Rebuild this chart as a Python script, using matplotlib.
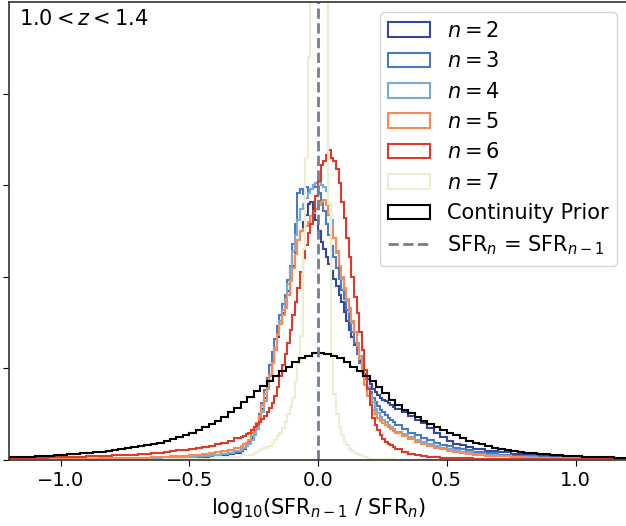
import numpy as np
import matplotlib.pyplot as plt

# bin edges for n=2..6: 0.05 / 0.025 in the wings, 0.01 in the core
edges = np.concatenate([np.linspace(-1.2, -0.6, 13)[:-1],
                        np.linspace(-0.6, -0.3, 13)[:-1],
                        np.linspace(-0.3, 0.3, 61)[:-1],
                        np.linspace(0.3, 0.6, 13)[:-1],
                        np.linspace(0.6, 1.2, 13)])
centers = 0.5 * (edges[1:] + edges[:-1])

# the prior is broad -> even 0.025 bins
edges_prior = np.linspace(-1.2, 1.2, 97)
centers_prior = 0.5 * (edges_prior[1:] + edges_prior[:-1])

# n=7 is very narrow -> 0.01 bins around the spike
edges_n7 = np.concatenate([[-1.2, -0.6, -0.4, -0.3],
                           np.linspace(-0.25, 0.2, 46),
                           [0.25, 0.3, 0.4, 1.2]])
centers_n7 = 0.5 * (edges_n7[1:] + edges_n7[:-1])

# densities
# (wing | 0.025 shoulder | core -0.3..0.3 | 0.025 shoulder | wing)
n2 = ([0.004, 0.004, 0.005, 0.005, 0.006, 0.006, 0.007, 0.008, 0.009, 0.010, 0.012, 0.014] +
      [0.016, 0.018, 0.020, 0.023, 0.026, 0.030, 0.034, 0.039, 0.045, 0.053, 0.064, 0.080] +
      [0.10, 0.12, 0.15, 0.19, 0.24, 0.30, 0.37, 0.46, 0.56, 0.68,
       0.80, 0.93, 1.06, 1.20, 1.34, 1.48, 1.60, 1.70, 1.84, 1.98,
       2.12, 2.28, 2.40, 2.50, 2.60, 2.68, 2.80, 2.82, 2.70, 2.62,
       2.50, 2.38, 2.30, 2.22, 2.14, 2.06, 1.98, 1.90, 1.80, 1.72,
       1.62, 1.52, 1.42, 1.34, 1.26, 1.18, 1.08, 1.00, 0.94, 0.88,
       0.83, 0.78, 0.74, 0.71, 0.68, 0.66, 0.64, 0.62, 0.60, 0.58] +
      [0.56, 0.52, 0.48, 0.44, 0.40, 0.35, 0.30, 0.25, 0.21, 0.18, 0.16, 0.14] +
      [0.12, 0.10, 0.082, 0.068, 0.056, 0.046, 0.038, 0.031, 0.026, 0.021, 0.018, 0.016])

n3 = ([0.005, 0.005, 0.006, 0.006, 0.007, 0.008, 0.009, 0.010, 0.011, 0.013, 0.015, 0.018] +
      [0.020, 0.022, 0.025, 0.028, 0.031, 0.035, 0.040, 0.046, 0.053, 0.062, 0.074, 0.090] +
      [0.11, 0.13, 0.16, 0.20, 0.25, 0.32, 0.40, 0.50, 0.62, 0.76,
       0.90, 1.04, 1.18, 1.32, 1.46, 1.58, 1.70, 1.80, 1.96, 2.12,
       2.36, 2.58, 2.92, 2.96, 2.90, 2.98, 2.94, 2.96, 3.00, 2.98,
       2.92, 2.82, 2.72, 2.58, 2.46, 2.34, 2.22, 2.10, 1.98, 1.86,
       1.76, 1.64, 1.52, 1.40, 1.28, 1.16, 1.06, 0.96, 0.88, 0.80,
       0.74, 0.68, 0.63, 0.59, 0.55, 0.52, 0.49, 0.46, 0.44, 0.42] +
      [0.38, 0.34, 0.30, 0.27, 0.24, 0.215, 0.19, 0.168, 0.148, 0.132, 0.118, 0.105] +
      [0.088, 0.072, 0.058, 0.047, 0.039, 0.032, 0.027, 0.023, 0.020, 0.017, 0.015, 0.013])

n4 = ([0.005, 0.006, 0.006, 0.007, 0.008, 0.009, 0.010, 0.011, 0.013, 0.015, 0.017, 0.020] +
      [0.022, 0.025, 0.028, 0.031, 0.035, 0.039, 0.044, 0.050, 0.057, 0.066, 0.078, 0.095] +
      [0.11, 0.13, 0.15, 0.18, 0.22, 0.27, 0.34, 0.42, 0.52, 0.64,
       0.78, 0.92, 1.06, 1.22, 1.38, 1.52, 1.64, 1.76, 1.92, 2.10,
       2.28, 2.46, 2.62, 2.74, 2.80, 2.86, 2.92, 2.96, 3.00, 3.02,
       3.04, 3.00, 2.98, 2.94, 2.78, 2.62, 2.42, 2.26, 2.12, 1.98,
       1.86, 1.74, 1.62, 1.50, 1.40, 1.28, 1.14, 1.02, 0.90, 0.80,
       0.71, 0.63, 0.56, 0.51, 0.47, 0.44, 0.41, 0.38, 0.36, 0.34] +
      [0.31, 0.28, 0.25, 0.22, 0.195, 0.172, 0.152, 0.134, 0.118, 0.104, 0.092, 0.082] +
      [0.068, 0.056, 0.046, 0.038, 0.032, 0.027, 0.023, 0.020, 0.018, 0.016, 0.014, 0.013])

n5 = ([0.008, 0.009, 0.010, 0.011, 0.012, 0.013, 0.015, 0.017, 0.019, 0.022, 0.026, 0.031] +
      [0.035, 0.039, 0.043, 0.048, 0.054, 0.060, 0.067, 0.075, 0.085, 0.097, 0.110, 0.130] +
      [0.15, 0.17, 0.19, 0.22, 0.29, 0.34, 0.40, 0.48, 0.60, 0.72,
       0.82, 0.93, 1.06, 1.20, 1.36, 1.48, 1.58, 1.66, 1.80, 1.95,
       2.10, 2.25, 2.40, 2.50, 2.52, 2.55, 2.60, 2.66, 2.70, 2.74,
       2.78, 2.82, 2.84, 2.78, 2.68, 2.56, 2.42, 2.28, 2.12, 2.00,
       1.88, 1.76, 1.66, 1.52, 1.40, 1.25, 1.10, 0.96, 0.82, 0.70,
       0.62, 0.55, 0.50, 0.46, 0.43, 0.40, 0.38, 0.36, 0.34, 0.32] +
      [0.29, 0.26, 0.23, 0.20, 0.175, 0.155, 0.135, 0.115, 0.100, 0.088, 0.078, 0.068] +
      [0.058, 0.047, 0.039, 0.033, 0.027, 0.023, 0.020, 0.017, 0.015, 0.013, 0.012, 0.011])

n6 = ([0.020, 0.022, 0.025, 0.028, 0.031, 0.035, 0.040, 0.045, 0.050, 0.058, 0.068, 0.080] +
      [0.090, 0.097, 0.105, 0.113, 0.122, 0.133, 0.145, 0.158, 0.172, 0.190, 0.210, 0.235] +
      [0.25, 0.26, 0.28, 0.30, 0.33, 0.36, 0.39, 0.42, 0.45, 0.48,
       0.52, 0.57, 0.62, 0.70, 0.80, 0.92, 1.04, 1.16, 1.28, 1.42,
       1.58, 1.72, 1.88, 2.05, 2.20, 2.35, 2.48, 2.58, 2.72, 2.88,
       3.05, 3.22, 3.26, 3.33, 3.38, 3.30, 3.26, 3.18, 3.02, 2.82,
       2.64, 2.42, 2.22, 2.00, 1.78, 1.60, 1.40, 1.20, 0.98, 0.78,
       0.60, 0.46, 0.38, 0.33, 0.27, 0.23, 0.20, 0.18, 0.16, 0.14] +
      [0.12, 0.09, 0.07, 0.055, 0.045, 0.037, 0.031, 0.027, 0.024, 0.021, 0.019, 0.017] +
      [0.015, 0.013, 0.012, 0.011, 0.010, 0.010, 0.009, 0.009, 0.008, 0.008, 0.008, 0.007])

n7 = ([0.003, 0.012, 0.030, 0.055] +
      [0.08, 0.09, 0.11, 0.12, 0.14, 0.13, 0.15, 0.19, 0.22, 0.26,
       0.30, 0.35, 0.42, 0.50, 0.58, 0.68, 0.85, 1.05, 1.35, 2.30,
       3.30, 4.40, 6.50, 8.50, 9.20, 9.20, 8.60, 7.60, 6.00, 2.80,
       1.15, 0.72, 0.50, 0.36, 0.27, 0.20, 0.16, 0.12, 0.10, 0.08,
       0.065, 0.050, 0.040, 0.030, 0.022] +
      [0.015, 0.008, 0.004, 0.001])

prior = [0.030, 0.032, 0.035, 0.038, 0.041, 0.045, 0.049, 0.053,
         0.058, 0.063, 0.068, 0.074, 0.080, 0.086, 0.092, 0.099,
         0.107, 0.116, 0.126, 0.137, 0.149, 0.161, 0.174, 0.190,
         0.207, 0.226, 0.248, 0.272, 0.298, 0.326, 0.356, 0.388,
         0.425, 0.47, 0.52, 0.57, 0.63, 0.69, 0.75, 0.81,
         0.86, 0.92, 0.97, 1.02, 1.07, 1.11, 1.14, 1.17,
         1.17, 1.16, 1.14, 1.11, 1.07, 1.02, 0.97, 0.92,
         0.86, 0.80, 0.73, 0.66, 0.60, 0.55, 0.51, 0.47,
         0.43, 0.39, 0.36, 0.33, 0.30, 0.27, 0.24, 0.21,
         0.19, 0.17, 0.15, 0.135, 0.120, 0.108, 0.097, 0.088,
         0.080, 0.073, 0.067, 0.061, 0.056, 0.051, 0.047, 0.043,
         0.040, 0.037, 0.034, 0.032, 0.030, 0.028, 0.026, 0.025]

labels = [r'$n = 2$', r'$n = 3$', r'$n = 4$', r'$n = 5$', r'$n = 6$', r'$n = 7$']
colors = ['#34479b', '#4a7bbf', '#76acd6', '#f98a55', '#dc3b2c', '#eaefcf']

fig = plt.figure(figsize=(6.26, 5.26), dpi=100)
ax = fig.add_axes([9 / 626, 66 / 526, 618 / 626, 458 / 526])

for vals, col, lab in zip([n2, n3, n4, n5, n6], colors[:5], labels[:5]):
    ax.hist(centers, bins=edges, weights=vals, histtype='step',
            color=col, lw=1.5, label=lab)
ax.hist(centers_n7, bins=edges_n7, weights=n7, histtype='step',
        color=colors[5], lw=1.5, label=labels[5])
ax.hist(centers_prior, bins=edges_prior, weights=prior, histtype='step',
        color='black', lw=1.5, label='Continuity Prior')
ax.axvline(0.0, color='slategray', ls='--', lw=2,
           label=r'SFR$_n$ = SFR$_{n-1}$')

ax.set_xlim(-1.2, 1.2)
ax.set_ylim(0, 5)
ax.set_xticks([-1.0, -0.5, 0.0, 0.5, 1.0])
ax.set_yticks([0, 1, 2, 3, 4])
ax.set_yticklabels([])
ax.tick_params(labelsize=14, length=4.5)
ax.set_xlabel(r'log$_{10}$(SFR$_{n-1}$ / SFR$_n$)', fontsize=15)

ax.text(0.016, 0.985, r'$1.0 < z < 1.4$', transform=ax.transAxes,
        fontsize=15, va='top', ha='left')

ax.legend(loc='upper right', fontsize=15, labelspacing=0.5)

for sp in ax.spines.values():
    sp.set_color('#333333')
    sp.set_linewidth(1.2)

plt.savefig('out.png', dpi=100)
